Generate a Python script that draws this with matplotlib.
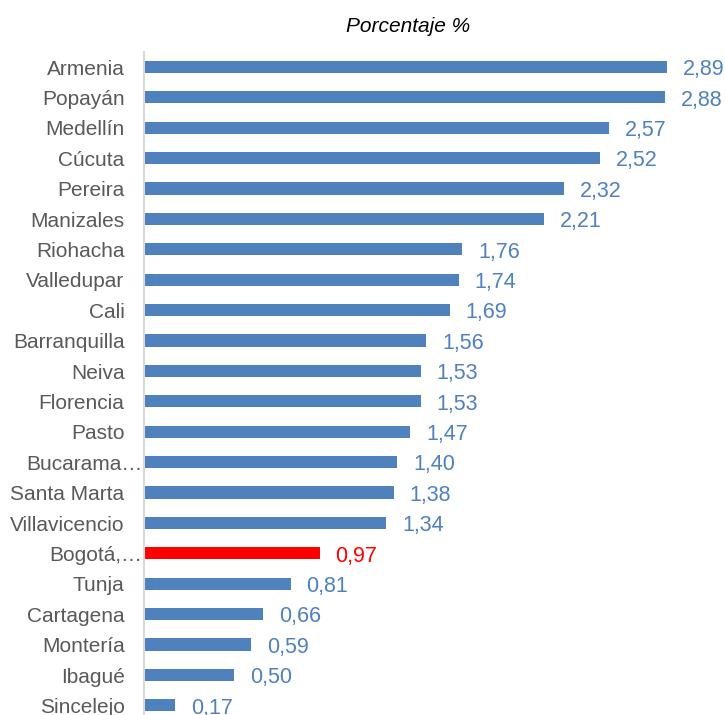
import matplotlib.pyplot as plt
import matplotlib.transforms as mtransforms
import numpy as np

plt.rcParams['font.family'] = ['Liberation Sans', 'DejaVu Sans']

ciudades = ["Armenia", "Popayán", "Medellín", "Cúcuta", "Pereira", "Manizales",
            "Riohacha", "Valledupar", "Cali", "Barranquilla", "Neiva", "Florencia",
            "Pasto", "Bucarama…", "Santa Marta", "Villavicencio", "Bogotá,…",
            "Tunja", "Cartagena", "Montería", "Ibagué", "Sincelejo"]
porcentaje = [2.89, 2.88, 2.57, 2.52, 2.32, 2.21, 1.76, 1.74, 1.69, 1.56, 1.53,
              1.53, 1.47, 1.40, 1.38, 1.34, 0.97, 0.81, 0.66, 0.59, 0.50, 0.17]
destacada = "Bogotá,…"

azul = "#4F81BD"
rojo = "#FF0000"

fig = plt.figure(figsize=(7.25, 7.15), dpi=100)
ax = fig.add_axes([144 / 725, -0.0078, 579 / 725, 0.9354])

y = np.arange(len(ciudades))
colores = [rojo if c == destacada else azul for c in ciudades]
ax.barh(y, porcentaje, height=0.4, color=colores)

# etiquetas de valor
for yi, v, c in zip(y, porcentaje, colores):
    ax.annotate(f"{v:.2f}".replace(".", ","), (v, yi), xytext=(11.5, -2),
                textcoords="offset points", va="center", ha="left",
                fontsize=15.5, color=c)

# nombres de ciudad (los truncados sobresalen hasta el eje, como en Excel)
trans = mtransforms.blended_transform_factory(ax.transAxes, ax.transData)
for yi, c in zip(y, ciudades):
    dx = -1 if c.endswith("…") else -14
    ax.annotate(c, (0, yi), xycoords=trans, xytext=(dx, -1.5),
                textcoords="offset points", va="center", ha="right",
                fontsize=15, color="#595959")

ax.set_xlim(0, 3.2)
ax.set_ylim(len(ciudades) - 0.5, -0.5)
ax.set_yticks([])
ax.set_xticks([])
for s in ["top", "right", "bottom"]:
    ax.spines[s].set_visible(False)
ax.spines["left"].set_color("#D9D9D9")
ax.spines["left"].set_linewidth(1.5)

fig.text(408 / 725, 1 - 27 / 715, "Porcentaje %", ha="center", va="center",
         fontsize=15, style="italic", color="black")

fig.savefig("out.png", dpi=100)
